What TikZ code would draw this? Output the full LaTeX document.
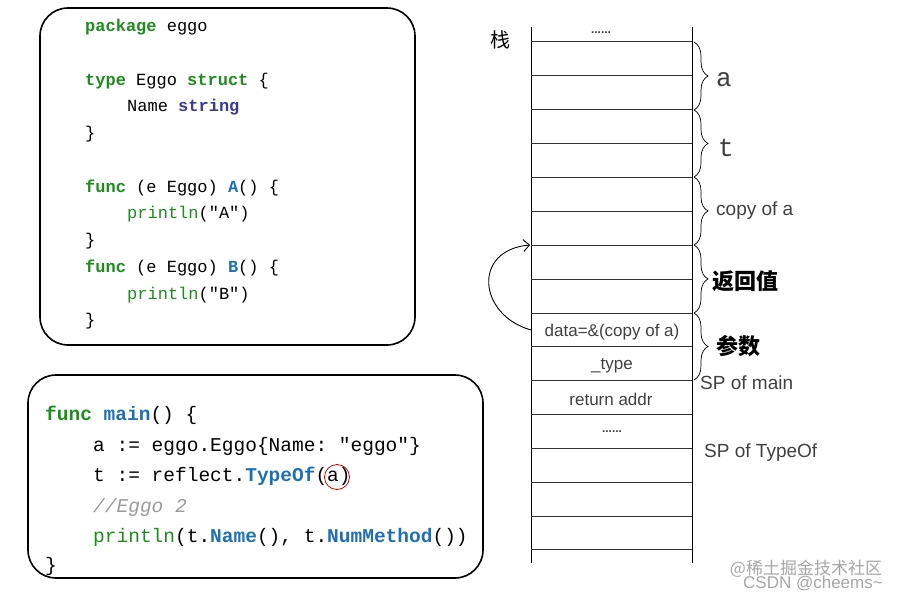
\documentclass[tikz,border=0pt]{standalone}
\usepackage{fontspec}
\setmainfont{Liberation Sans}
\setmonofont{Liberation Mono}
\newfontfamily\cjk{Noto Sans CJK SC}
\usetikzlibrary{decorations.pathreplacing,arrows.meta}
\definecolor{kw}{HTML}{1E8C1E}
\definecolor{fn}{HTML}{1F6FB5}
\definecolor{ty}{HTML}{3B3B8F}
\definecolor{cm}{HTML}{9A9A9A}
\begin{document}
\begin{tikzpicture}[x=1pt,y=-1pt,
  box/.style={draw,line width=1.6pt,rounded corners=28pt},
  code/.style={anchor=west,inner sep=0,font=\ttfamily\fontsize{17}{17}\selectfont},
  codeb/.style={anchor=west,inner sep=0,font=\ttfamily\fontsize{19.5}{19.5}\selectfont},
  cell/.style={inner sep=0,font=\fontsize{17}{17}\selectfont,text=black!75},
  lab/.style={anchor=west,inner sep=0,font=\fontsize{19}{19}\selectfont,text=black!75},
  br/.style={decorate,decoration={brace,amplitude=14pt},line width=0.7pt}]
\useasboundingbox (0,0) rectangle (902,599);
\newcommand{\K}[1]{\textcolor{kw}{\textbf{#1}}}
\newcommand{\F}[1]{\textcolor{fn}{\textbf{#1}}}
% box 1
\draw[box] (40,8) rectangle (415,345);
\node[code] (l1) at (85,27) {\K{package} eggo};
\node[code] (l2) at (85,81) {\K{type} Eggo \K{struct} \{};
\node[code] (l3) at (127,107) {Name \textcolor{ty}{\textbf{string}}};
\node[code] (l4) at (85,134) {\}};
\node[code] (l5) at (85,188) {\K{func} (e Eggo) \F{A}() \{};
\node[code] (l6) at (127,214) {\textcolor{kw}{println}("A")};
\node[code] (l7) at (85,241) {\}};
\node[code] (l8) at (85,268) {\K{func} (e Eggo) \F{B}() \{};
\node[code] (l9) at (127,295) {\textcolor{kw}{println}("B")};
\node[code] (l10) at (85,321) {\}};
% box 2
\draw[box] (28,375) rectangle (483,578);
\node[codeb] (m1) at (45,415) {\K{func} \F{main}() \{};
\node[codeb] (m2) at (93,446) {a := eggo.Eggo\{Name: "eggo"\}};
\node[codeb] (m3) at (93,476) {t := reflect.\F{TypeOf}(a)};
\node[codeb] (m4) at (93,507) {\textcolor{cm}{\textit{//Eggo 2}}};
\node[codeb] (m5) at (93,537) {\textcolor{kw}{println}(t.\F{Name}(), t.\F{NumMethod}())};
\node[codeb] (m6) at (45,566) {\}};
\node[draw=red!80!black,circle,line width=0.8pt,minimum size=25pt,inner sep=0] (rc) at (337,477) {};
% stack
\draw[line width=0.9pt] (531,27) -- (531,563) (692,27) -- (692,563);
\foreach \y in {42,76,110,144,177,211,245,279,313,346,380,414,448,482,516,549}
  \draw[line width=1pt,black!80] (531,\y) -- (692,\y);
\node[font=\cjk\fontsize{20}{20}\selectfont] (zhan) at (500,40) {栈};
\node[cell,font=\bfseries\fontsize{12}{12}\selectfont] (d1) at (601,33) {......};
\node[cell] (c1) at (612,332) {data=\&(copy of a)};
\node[cell] (c2) at (612,366) {\_type};
\node[cell] (c3) at (611,399) {return addr};
\node[cell,font=\bfseries\fontsize{12}{12}\selectfont] (d2) at (612,432) {......};
\coordinate (s1) at (694,42); \coordinate (s2) at (694,110);
\coordinate (s3) at (694,177); \coordinate (s4) at (694,245);
\coordinate (s5) at (694,313); \coordinate (s6) at (694,380);
\draw[br] (s1) -- (s2);
\draw[br] (s2) -- (s3);
\draw[br] (s3) -- (s4);
\draw[br] (s4) -- (s5);
\draw[br] (s5) -- (s6);
\node[lab,font=\ttfamily\fontsize{26}{26}\selectfont] (la) at (716,80) {a};
\node[lab,font=\ttfamily\fontsize{26}{26}\selectfont] (lt) at (718,148) {t};
\node[lab] (lc) at (716,211) {copy of a};
\node[lab,font=\cjk\bfseries\fontsize{22}{22}\selectfont,text=black] (lr) at (712,281) {返回值};
\node[lab,font=\cjk\bfseries\fontsize{22}{22}\selectfont,text=black] (lp) at (716,346) {参数};
\node[lab] (spm) at (700,383) {SP of main};
\node[lab] (spt) at (704,453) {SP of TypeOf};
% arrow
\coordinate (ab) at (531,330);
\coordinate (at) at (530,245);
\draw[-{Straight Barb[length=6pt]},line width=0.9pt] (ab) .. controls (478,315) and (472,250) .. (at);
% watermark
\node[inner sep=0,font=\cjk\fontsize{17}{17}\selectfont,text=black!35] (w1) at (806,569) {@稀土掘金技术社区};
\node[inner sep=0,font=\fontsize{17}{17}\selectfont,text=black!35] (w2) at (813,584) {CSDN @cheems\textasciitilde};
\end{tikzpicture}
\end{document}
